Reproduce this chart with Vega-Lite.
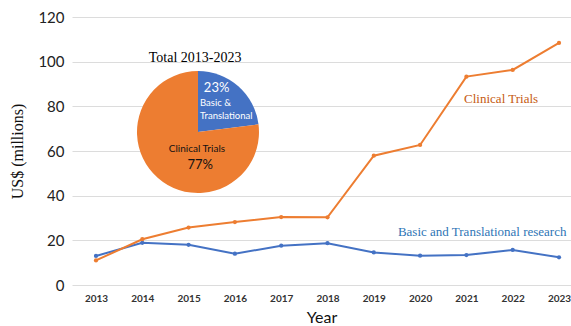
{
  "$schema": "https://vega.github.io/schema/vega-lite/v6.json",
  "width": 499,
  "height": 268,
  "autosize": "none",
  "padding": {"left": 72, "top": 17, "right": 0, "bottom": 41},
  "background": "white",
  "config": {"view": {"stroke": null}},
  "datasets": {
    "series": [
      {"year": 2013, "series": "Basic and Translational research", "value": 13.0},
      {"year": 2014, "series": "Basic and Translational research", "value": 18.9},
      {"year": 2015, "series": "Basic and Translational research", "value": 18.0},
      {"year": 2016, "series": "Basic and Translational research", "value": 14.0},
      {"year": 2017, "series": "Basic and Translational research", "value": 17.6},
      {"year": 2018, "series": "Basic and Translational research", "value": 18.7},
      {"year": 2019, "series": "Basic and Translational research", "value": 14.6},
      {"year": 2020, "series": "Basic and Translational research", "value": 13.1},
      {"year": 2021, "series": "Basic and Translational research", "value": 13.4},
      {"year": 2022, "series": "Basic and Translational research", "value": 15.7},
      {"year": 2023, "series": "Basic and Translational research", "value": 12.4},
      {"year": 2013, "series": "Clinical Trials", "value": 11.0},
      {"year": 2014, "series": "Clinical Trials", "value": 20.5},
      {"year": 2015, "series": "Clinical Trials", "value": 25.7},
      {"year": 2016, "series": "Clinical Trials", "value": 28.2},
      {"year": 2017, "series": "Clinical Trials", "value": 30.4},
      {"year": 2018, "series": "Clinical Trials", "value": 30.3},
      {"year": 2019, "series": "Clinical Trials", "value": 57.9},
      {"year": 2020, "series": "Clinical Trials", "value": 62.7},
      {"year": 2021, "series": "Clinical Trials", "value": 93.3},
      {"year": 2022, "series": "Clinical Trials", "value": 96.3},
      {"year": 2023, "series": "Clinical Trials", "value": 108.4}
    ],
    "pie": [
      {"series": "Basic and Translational research", "share": 23, "order": 1, "cx": 2015.203, "cy": 68.5},
      {"series": "Clinical Trials", "share": 77, "order": 2, "cx": 2015.203, "cy": 68.5}
    ]
  },
  "layer": [
    {
      "data": {"name": "series"},
      "transform": [{"filter": "datum.series === 'Basic and Translational research'"}],
      "mark": {"type": "line", "strokeWidth": 2, "color": "#4472C4", "point": {"filled": true, "size": 18, "color": "#4472C4"}},
      "encoding": {
        "x": {
          "field": "year", "type": "quantitative",
          "scale": {"domain": [2012.482, 2023.259], "nice": false, "zero": false},
          "axis": {
            "values": [2013, 2014, 2015, 2016, 2017, 2018, 2019, 2020, 2021, 2022, 2023],
            "format": "d", "grid": false, "domain": false, "ticks": false,
            "labelFont": "Lato", "labelFontSize": 10, "labelFontWeight": "bold", "labelColor": "#333",
            "labelPadding": 8,
            "title": "Year", "titleFont": "Lato", "titleFontSize": 16, "titleFontWeight": "normal",
            "titleColor": "#111", "titlePadding": 6
          }
        },
        "y": {
          "field": "value", "type": "quantitative",
          "scale": {"domain": [0, 120], "nice": false},
          "axis": {
            "values": [0, 20, 40, 60, 80, 100, 120],
            "grid": true, "gridColor": "#dcdcdc", "gridWidth": 1,
            "domain": false, "ticks": false,
            "labelFont": "Lato", "labelFontSize": 15, "labelColor": "#222", "labelPadding": 8,
            "title": "US$ (millions)", "titleFont": "Liberation Serif", "titleFontSize": 16,
            "titleFontWeight": "normal", "titleColor": "#111", "titlePadding": 12
          }
        }
      }
    },
    {
      "data": {"name": "series"},
      "transform": [{"filter": "datum.series === 'Clinical Trials'"}],
      "mark": {"type": "line", "strokeWidth": 2, "color": "#ED7D31", "point": {"filled": true, "size": 18, "color": "#ED7D31"}},
      "encoding": {
        "x": {"field": "year", "type": "quantitative"},
        "y": {"field": "value", "type": "quantitative"}
      }
    },
    {
      "data": {"name": "pie"},
      "mark": {"type": "arc", "outerRadius": 61},
      "encoding": {
        "x": {"field": "cx", "type": "quantitative"},
        "y": {"field": "cy", "type": "quantitative"},
        "theta": {"field": "share", "type": "quantitative", "stack": true},
        "order": {"field": "order", "type": "quantitative"},
        "color": {
          "field": "series", "type": "nominal",
          "scale": {"domain": ["Basic and Translational research", "Clinical Trials"], "range": ["#4472C4", "#ED7D31"]},
          "legend": null
        }
      }
    },
    {
      "data": {"values": [{"label": "Clinical Trials", "x": 2020.95, "y": 83.3}]},
      "mark": {"type": "text", "align": "left", "baseline": "middle", "font": "Liberation Serif", "fontSize": 13, "color": "#C55A11"},
      "encoding": {
        "x": {"field": "x", "type": "quantitative"},
        "y": {"field": "y", "type": "quantitative"},
        "text": {"field": "label"}
      }
    },
    {
      "data": {"values": [{"label": "Basic and Translational research", "x": 2019.52, "y": 23.9}]},
      "mark": {"type": "text", "align": "left", "baseline": "middle", "font": "Liberation Serif", "fontSize": 13, "color": "#2E75B6"},
      "encoding": {
        "x": {"field": "x", "type": "quantitative"},
        "y": {"field": "y", "type": "quantitative"},
        "text": {"field": "label"}
      }
    },
    {
      "data": {"values": [{"label": "Total 2013-2023", "x": 2015.14, "y": 101.7}]},
      "mark": {"type": "text", "align": "center", "baseline": "middle", "font": "Liberation Serif", "fontSize": 14, "color": "#000"},
      "encoding": {
        "x": {"field": "x", "type": "quantitative"},
        "y": {"field": "y", "type": "quantitative"},
        "text": {"field": "label"}
      }
    },
    {
      "data": {"values": [{"label": "23%", "x": 2015.33, "y": 88.2}]},
      "mark": {"type": "text", "align": "left", "baseline": "middle", "font": "Lato", "fontSize": 13, "color": "white"},
      "encoding": {
        "x": {"field": "x", "type": "quantitative"},
        "y": {"field": "y", "type": "quantitative"},
        "text": {"field": "label"}
      }
    },
    {
      "data": {"values": [
        {"label": "Basic &", "x": 2015.246, "y": 81.5},
        {"label": "Translational", "x": 2015.246, "y": 75.7}
      ]},
      "mark": {"type": "text", "align": "left", "baseline": "middle", "font": "Lato", "fontSize": 9.5, "color": "white"},
      "encoding": {
        "x": {"field": "x", "type": "quantitative"},
        "y": {"field": "y", "type": "quantitative"},
        "text": {"field": "label"}
      }
    },
    {
      "data": {"values": [{"label": "Clinical Trials", "x": 2015.18, "y": 60.9}]},
      "mark": {"type": "text", "align": "center", "baseline": "middle", "font": "Lato", "fontSize": 10, "color": "#111"},
      "encoding": {
        "x": {"field": "x", "type": "quantitative"},
        "y": {"field": "y", "type": "quantitative"},
        "text": {"field": "label"}
      }
    },
    {
      "data": {"values": [{"label": "77%", "x": 2015.25, "y": 53.7}]},
      "mark": {"type": "text", "align": "center", "baseline": "middle", "font": "Lato", "fontSize": 13, "color": "#111"},
      "encoding": {
        "x": {"field": "x", "type": "quantitative"},
        "y": {"field": "y", "type": "quantitative"},
        "text": {"field": "label"}
      }
    }
  ]
}
